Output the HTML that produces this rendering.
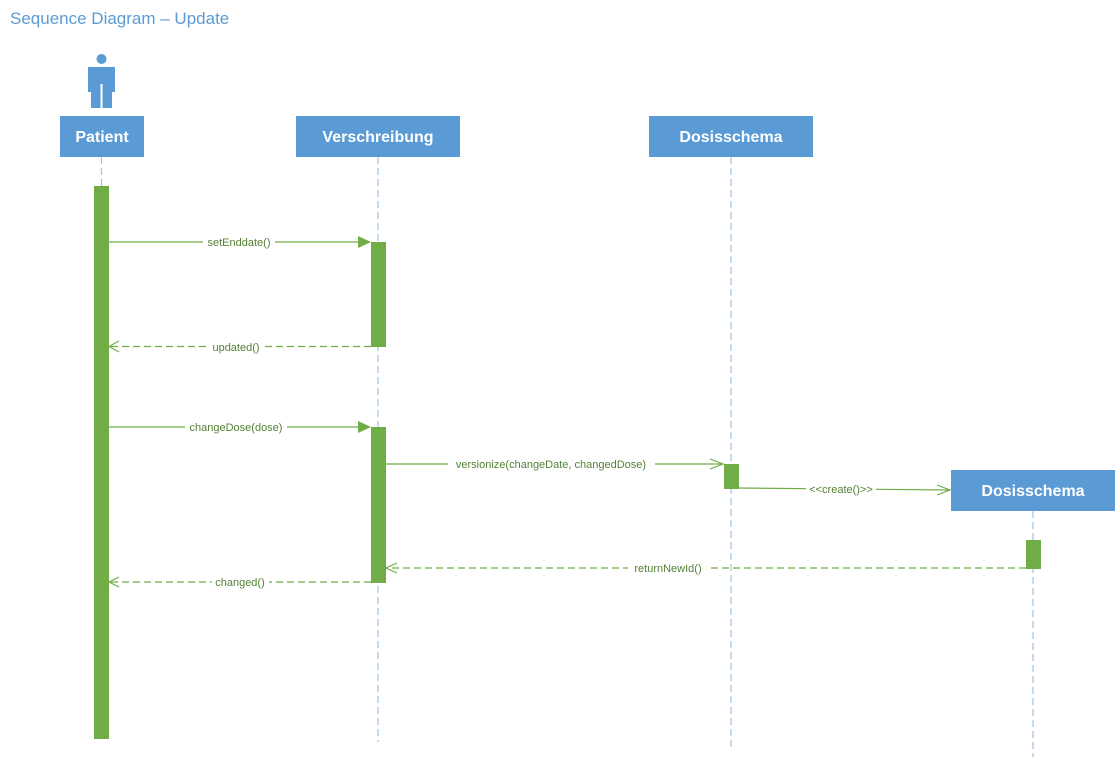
<!DOCTYPE html>
<html><head><meta charset="utf-8"><style>
html,body{margin:0;padding:0;background:#fff;}
svg{display:block;}
</style></head><body>
<svg width="1117" height="757" viewBox="0 0 1117 757" xmlns="http://www.w3.org/2000/svg" font-family="Liberation Sans, sans-serif">
<text x="10" y="24" font-size="17" fill="#5b9bd5">Sequence Diagram – Update</text>
<!-- actor -->
<circle cx="101.5" cy="59" r="5" fill="#5b9bd5"/>
<path d="M88 67 H115 V92 H112 V108 H102.5 V84 H100.5 V108 H91 V92 H88 Z" fill="#5b9bd5"/>
<!-- lifelines -->
<g stroke="#9dc3e6" stroke-width="1.2" stroke-dasharray="7,4" fill="none">
<line x1="101.5" y1="157" x2="101.5" y2="186"/>
<line x1="378" y1="157" x2="378" y2="742"/>
<line x1="731" y1="157" x2="731" y2="748"/>
<line x1="1033" y1="511" x2="1033" y2="757"/>
</g>
<!-- boxes -->
<g fill="#5b9bd5">
<rect x="60" y="116" width="84" height="41"/>
<rect x="296" y="116" width="164" height="41"/>
<rect x="649" y="116" width="164" height="41"/>
<rect x="951" y="470" width="164" height="41"/>
</g>
<g fill="#fff" font-size="16" font-weight="bold" text-anchor="middle">
<text x="102" y="142">Patient</text>
<text x="378" y="142">Verschreibung</text>
<text x="731" y="142">Dosisschema</text>
<text x="1033" y="496">Dosisschema</text>
</g>
<!-- activations -->
<g fill="#70ad47">
<rect x="94" y="186" width="15" height="553"/>
<rect x="371" y="242" width="15" height="105"/>
<rect x="371" y="427" width="15" height="156"/>
<rect x="724" y="464" width="15" height="25"/>
<rect x="1026" y="540" width="15" height="29"/>
</g>
<!-- messages -->
<g stroke="#70ad47" stroke-width="1.2" fill="none">
<line x1="109" y1="242" x2="360" y2="242"/>
<line x1="109" y1="427" x2="360" y2="427"/>
<line x1="371" y1="346.5" x2="109" y2="346.5" stroke-dasharray="7,4"/>
<line x1="371" y1="582" x2="109" y2="582" stroke-dasharray="7,4"/>
<line x1="386" y1="464" x2="723" y2="464"/>
<line x1="739" y1="488" x2="950" y2="490"/>
<line x1="1026" y1="568" x2="386" y2="568" stroke-dasharray="7,4"/>
<path d="M119 341 L109 346.5 L119 352"/>
<path d="M119 577 L109 582 L119 587"/>
<path d="M710 459 L723 464 L710 469"/>
<path d="M937 485 L950 490 L937 495"/>
<path d="M397 563 L386 568 L397 573"/>
</g>
<g fill="#70ad47">
<path d="M358 236 L371 242 L358 248 Z"/>
<path d="M358 421 L371 427 L358 433 Z"/>
</g>
<g font-size="11" fill="#548235" text-anchor="middle">
<g fill="#fff">
<rect x="203" y="235" width="72" height="13"/>
<rect x="208" y="340" width="56" height="13"/>
<rect x="185" y="420" width="102" height="13"/>
<rect x="448" y="457" width="207" height="13"/>
<rect x="806" y="482" width="70" height="13"/>
<rect x="628" y="561" width="80" height="13"/>
<rect x="212" y="575" width="57" height="13"/>
</g>
<text x="239" y="246">setEnddate()</text>
<text x="236" y="351">updated()</text>
<text x="236" y="431">changeDose(dose)</text>
<text x="551" y="468">versionize(changeDate, changedDose)</text>
<text x="841" y="493">&lt;&lt;create()&gt;&gt;</text>
<text x="668" y="572">returnNewId()</text>
<text x="240" y="586">changed()</text>
</g>
</svg>
</body></html>
